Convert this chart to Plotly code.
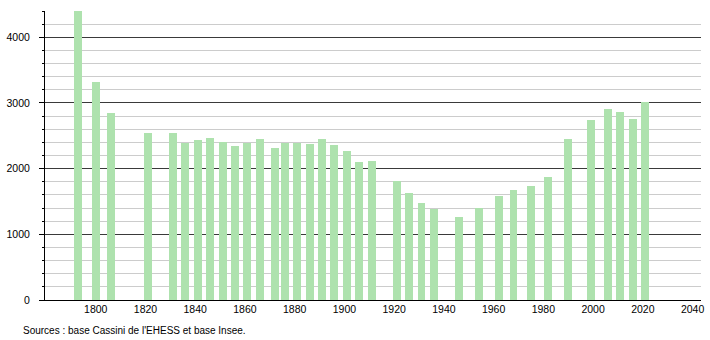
import plotly.graph_objects as go

years = [1793, 1800, 1806, 1821, 1831, 1836, 1841, 1846, 1851, 1856, 1861, 1866,
         1872, 1876, 1881, 1886, 1891, 1896, 1901, 1906, 1911, 1921, 1926, 1931,
         1936, 1946, 1954, 1962, 1968, 1975, 1982, 1990, 1999, 2006, 2011, 2016, 2021]
population = [4500, 3320, 2840, 2550, 2550, 2398, 2433, 2464, 2413, 2352, 2393, 2444,
              2307, 2398, 2398, 2373, 2444, 2367, 2261, 2099, 2114, 1810, 1622, 1470,
              1389, 1265, 1394, 1587, 1673, 1734, 1871, 2444, 2738, 2905, 2864, 2753, 3011]
x_ticks = [1800, 1820, 1840, 1860, 1880, 1900, 1920, 1940, 1960, 1980, 2000, 2020, 2040]
y_ticks = [0, 1000, 2000, 3000, 4000]
source_text = "Sources : base Cassini de l'EHESS et base Insee."

fig = go.Figure()
fig.add_trace(go.Bar(
    x=years, y=population, width=3.2,
    marker=dict(color="rgb(174,226,174)", line=dict(width=0)),
    hoverinfo="x+y",
))

font = dict(family="Liberation Sans, Arial, sans-serif", size=10.5, color="#000")

fig.update_layout(
    width=710, height=340,
    margin=dict(l=45, r=9, t=11, b=40, autoexpand=False),
    paper_bgcolor="white", plot_bgcolor="white",
    showlegend=False, bargap=0,
    font=font,
    xaxis=dict(
        range=[1779.6, 2043.4], tickvals=x_ticks, showgrid=False,
        showline=True, linecolor="#000", linewidth=1, ticks="",
        zeroline=False, tickfont=font, ticklabelstandoff=-1, automargin=False,
    ),
    yaxis=dict(
        range=[0, 4400], tickvals=y_ticks, showgrid=True,
        gridcolor="#3a3a3a", gridwidth=1,
        showline=True, linecolor="#000", linewidth=1,
        ticks="outside", ticklen=5, tickcolor="#000",
        zeroline=False, tickfont=font, ticklabelstandoff=7, automargin=False,
        minor=dict(dtick=200, showgrid=True, gridcolor="#cccccc", gridwidth=1,
                   ticks="outside", ticklen=2, tickcolor="#000"),
    ),
    annotations=[dict(
        text=source_text, xref="paper", yref="paper",
        x=(20.7 - 45) / 656, y=(300 - 330) / 289,
        xanchor="left", yanchor="middle", showarrow=False,
        font=dict(family="Liberation Sans, Arial, sans-serif", size=10, color="#000"),
    )],
)

fig.write_html("out.html")
